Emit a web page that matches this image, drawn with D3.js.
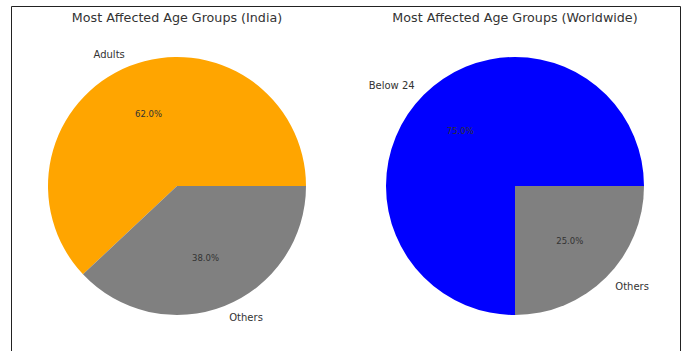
<!DOCTYPE html>
<html><head><meta charset="utf-8">
<script src="https://cdn.jsdelivr.net/npm/d3@7"></script>
<style>body{margin:0;background:#fff}svg{display:block}text{font-family:"DejaVu Sans",sans-serif}</style>
</head><body>
<svg id="c" width="686" height="351"></svg>
<script>
const titles = ["Most Affected Age Groups (India)", "Most Affected Age Groups (Worldwide)"];
const indiaLabels = ["Adults", "Others"];
const indiaValues = [62, 38];
const indiaColors = ["#FFA500", "#808080"];
const worldLabels = ["Below 24", "Others"];
const worldValues = [75, 25];
const worldColors = ["#0000FF", "#808080"];

const svg = d3.select("#c");
svg.append("path").attr("d","M11.5,351 V6.5 H680.5 V351").attr("fill","none").attr("stroke","#222").attr("stroke-width",1);

const R = 129;
function drawPie(cx, cy, title, labels, values, colors){
  const g = svg.append("g").attr("transform",`translate(${cx},${cy})`);
  svg.append("text").attr("x",cx).attr("y",22).attr("text-anchor","middle")
    .attr("font-size",12.7).attr("fill","#333").text(title);
  const total = d3.sum(values);
  // matplotlib: start at 3 o'clock, counterclockwise
  const pie = d3.pie().sort(null).startAngle(Math.PI/2).endAngle(Math.PI/2 - 2*Math.PI);
  const arcs = pie(values);
  const arc = d3.arc().innerRadius(0).outerRadius(R);
  g.selectAll("path").data(arcs).join("path").attr("d",arc).attr("fill",(d,i)=>colors[i]);
  arcs.forEach((a,i)=>{
    const m = (a.startAngle + a.endAngle)/2; // d3 angle: 0 at top, clockwise
    const sx = Math.sin(m), sy = -Math.cos(m);
    g.append("text").attr("x",1.1*R*sx).attr("y",1.1*R*sy).attr("dy","0.35em")
      .attr("text-anchor", sx<0?"end":"start").attr("font-size",10).attr("fill","#333").text(labels[i]);
    g.append("text").attr("x",0.6*R*sx).attr("y",0.6*R*sy).attr("dy","0.35em")
      .attr("text-anchor","middle").attr("font-size",8.5).attr("fill","#333")
      .text((values[i]/total*100).toFixed(1)+"%");
  });
}
drawPie(177,186,titles[0],indiaLabels,indiaValues,indiaColors);
drawPie(515,186,titles[1],worldLabels,worldValues,worldColors);
</script>
</body></html>
